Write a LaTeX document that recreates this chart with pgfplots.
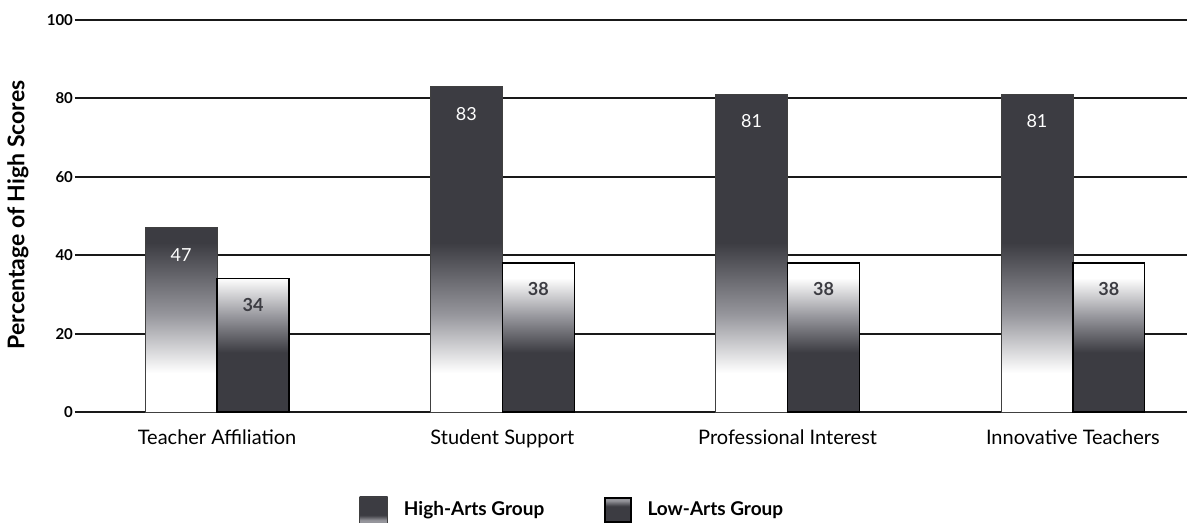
\documentclass[border=0pt]{standalone}
\usepackage{fontspec}
\setmainfont{Lato}
\usepackage{pgfplots}
\pgfplotsset{compat=1.18}

\definecolor{barDark}{RGB}{60,60,66}
\definecolor{barMid}{RGB}{150,150,156}

% bar box maps onto 25bp..75bp of the shading
\pgfdeclareverticalshading{highshade}{100bp}{%
  color(0bp)=(white); color(31bp)=(white); color(40bp)=(barMid);
  color(51bp)=(barDark); color(100bp)=(barDark)}
\pgfdeclareverticalshading{lowshade}{100bp}{%
  color(0bp)=(barDark); color(45bp)=(barDark); color(57bp)=(barMid);
  color(70bp)=(white); color(100bp)=(white)}
\pgfdeclareverticalshading{leghigh}{100bp}{%
  color(0bp)=(barMid); color(30bp)=(barMid); color(40bp)=(barDark);
  color(100bp)=(barDark)}
\pgfdeclareverticalshading{leglow}{100bp}{%
  color(0bp)=(barDark); color(58bp)=(barDark); color(70bp)=(barMid);
  color(100bp)=(barMid)}

\begin{document}
\begin{tikzpicture}
\path[use as bounding box] (-37.5pt,-55.5pt) rectangle (556pt,206pt);
\begin{axis}[
  scale only axis, width=556pt, height=196pt,
  xmin=-0.498, xmax=3.40, ymin=0, ymax=100,
  clip=false,
  xtick={0,1,2,3},
  xticklabels={Teacher Affiliation, Student Support, Professional Interest, Innovative Teachers},
  ytick={0,20,40,60,80,100},
  ymajorgrids, grid style={black!90, line width=1pt},
  axis line style={draw=none}, major tick length=0pt,
  /pgf/number format/assume math mode=true,
  yticklabel style={font=\bfseries\fontsize{7.5}{9}\selectfont, xshift=2.5pt},
  xticklabel style={font=\fontsize{10}{12}\selectfont, yshift=-5.5pt},
  ylabel={Percentage of High Scores},
  ylabel style={at={(axis description cs:-0.0513,0.503)}, anchor=center,
    font=\bfseries\fontsize{11.5}{13}\selectfont},
  legend columns=2,
  legend style={at={(0.448,-0.25)}, anchor=center, draw=none, fill=none,
    font=\bfseries\fontsize{9.5}{12}\selectfont,
    /tikz/every odd column/.append style={column sep=6pt},
    /tikz/every even column/.append style={column sep=28pt}},
  bar width=0.252,
]
% bars are placed at their own x (category -/+ half a bar width)
\addplot[ybar, bar shift=0, draw=black!75, line width=0.4pt, shading=highshade,
  nodes near coords,
  every node near coord/.append style={anchor=center, yshift=-13.5pt, text=white,
    font=\fontsize{9}{10}\selectfont},
  legend image code/.code={\shade[shading=leghigh] (0pt,-6.5pt) rectangle (14pt,6.5pt);}]
  coordinates {(-0.126,47) (0.874,83) (1.874,81) (2.874,81)};
\addlegendentry{High-Arts Group}
\addplot[ybar, bar shift=0, draw=black, line width=0.6pt, shading=lowshade,
  nodes near coords,
  every node near coord/.append style={anchor=center, yshift=-13pt, text=barDark,
    font=\bfseries\fontsize{9}{10}\selectfont},
  legend image code/.code={\shade[shading=leglow] (0pt,-6pt) rectangle (13pt,6pt);}]
  coordinates {(0.126,34) (1.126,38) (2.126,38) (3.126,38)};
\addlegendentry{Low-Arts Group}
\end{axis}
\end{tikzpicture}
\end{document}
